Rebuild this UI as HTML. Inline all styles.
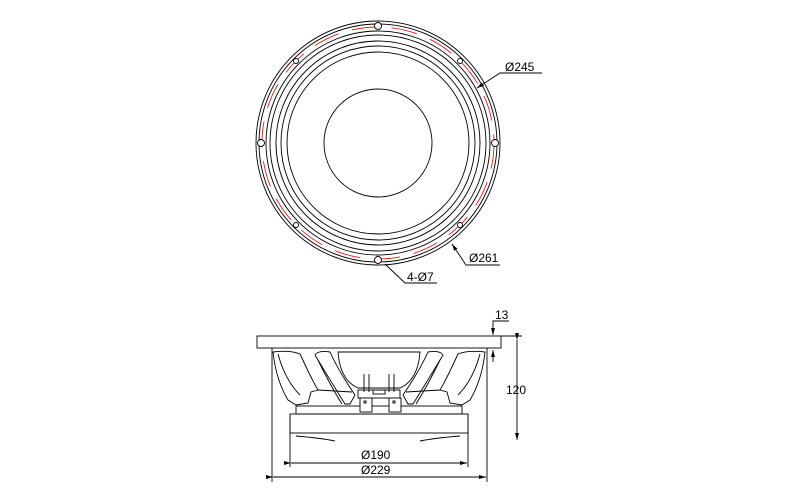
<!DOCTYPE html>
<html><head><meta charset="utf-8"><style>
html,body{margin:0;padding:0;background:#fff;width:800px;height:500px;overflow:hidden}
svg{display:block}
text{font-family:"Liberation Sans",sans-serif;font-size:12px;fill:#000}
</style></head><body>
<svg width="800" height="500" viewBox="0 0 800 500" fill="none" stroke="#000" stroke-width="0.9">
<defs>
<marker id="ar" markerWidth="8" markerHeight="6" refX="7" refY="3" orient="auto" markerUnits="userSpaceOnUse">
<path d="M0,1 L7,3 L0,5 Z" fill="#000" stroke="none"/></marker>
</defs>
<g transform="translate(378,143)">
<circle r="122"/><circle r="119"/>
<circle r="116" stroke="#e02020" stroke-dasharray="26 14"/>
<circle r="112"/><circle r="108"/><circle r="102"/><circle r="97"/><circle r="91"/>
<circle r="54"/>
<circle cx="0" cy="-117" r="3.5" fill="#fff"/>
<circle cx="0" cy="117" r="3.5" fill="#fff"/>
<circle cx="-117" cy="0" r="3.5" fill="#fff"/>
<circle cx="117" cy="0" r="3.5" fill="#fff"/>
<circle cx="-82" cy="-82" r="2.5" fill="#fff"/>
<circle cx="82" cy="-82" r="2.5" fill="#fff"/>
<circle cx="-82" cy="82" r="2.5" fill="#fff"/>
<circle cx="82" cy="82" r="2.5" fill="#fff"/>
</g>
<path d="M542,73 L500,73 L477,88" marker-end="url(#ar)"/>
<text x="505" y="71" stroke="none">Ø245</text>
<path d="M500,265 L466,265 L452,244" marker-end="url(#ar)"/>
<text x="469" y="262" stroke="none">Ø261</text>
<path d="M437,283 L405,283 L385,264"/>
<text x="407" y="281" stroke="none">4-Ø7</text>
<rect x="257" y="336" width="244" height="12"/>
<path d="M272,348 V482 M487,348 V482 M290,414 V467 M468,414 V467"/>
<rect x="296" y="406" width="166" height="8"/>
<rect x="290" y="414" width="178" height="19"/>
<path d="M296,436 Q320,438 335,441 M460,436 Q435,438 420,441"/>
<path d="M273,352 Q290,350 300,354 Q312,380 318,390 L311,392 L308,403 L296,405 L288,400 Q276,380 273,352 Z"/>
<path d="M278,354 Q285,380 300,395"/>
<path d="M485,352 Q468,350 458,354 Q446,380 440,390 L447,392 L450,403 L462,405 L470,400 Q482,380 485,352 Z"/>
<path d="M480,354 Q473,380 458,395"/>
<path d="M315,355 Q318,350 330,352 Q338,370 355,395 L350,404 L345,404 Q330,380 315,355 Z"/>
<path d="M318,360 Q330,385 342,404"/>
<path d="M443,355 Q440,350 428,352 Q420,370 403,395 L408,404 L413,404 Q428,380 443,355 Z"/>
<path d="M440,360 Q428,385 416,404"/>
<path d="M338,352 Q340,380 358,388 L400,388 Q418,380 420,352 Z"/>
<path d="M318,390 L352,392 M406,392 L440,390"/>
<path d="M364,374 V392 M369,374 V392 M389,374 V392 M394,374 V392"/>
<rect x="358" y="390" width="42" height="8"/>
<rect x="373" y="390" width="12" height="4"/>
<rect x="360" y="398" width="12" height="14" fill="#fff"/>
<rect x="389" y="398" width="12" height="14" fill="#fff"/>
<rect x="364" y="401" width="2" height="2"/>
<rect x="393" y="401" width="2" height="2"/>
<path d="M291,463 H467" marker-start="url(#ar)" marker-end="url(#ar)"/>
<text x="361" y="459" stroke="none">Ø190</text>
<path d="M273,477 H486" marker-start="url(#ar)" marker-end="url(#ar)"/>
<text x="361" y="474" stroke="none">Ø229</text>
<path d="M501,336 H522"/>
<path d="M517,340 V440" marker-start="url(#ar)" marker-end="url(#ar)"/>
<text x="506" y="394" stroke="none">120</text>
<path d="M509,321 H493 V335" marker-end="url(#ar)"/>
<path d="M493,362 V350" marker-end="url(#ar)"/>
<text x="495" y="319" stroke="none">13</text>
</svg>
</body></html>
